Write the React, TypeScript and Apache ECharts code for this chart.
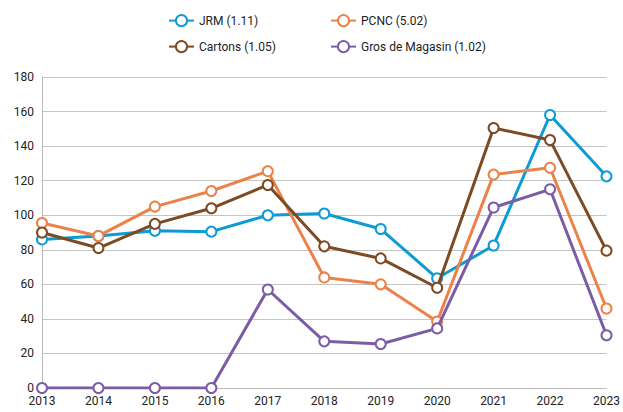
import React, { useEffect, useRef } from "react";
import * as echarts from "echarts";

const years = ["2013", "2014", "2015", "2016", "2017", "2018", "2019", "2020", "2021", "2022", "2023"];
const jrm = [86, 88, 91, 90.5, 100, 101, 92, 63.5, 82.5, 158, 122.5];
const pcnc = [95.5, 88, 105, 114, 125.5, 64, 60, 38.5, 123.5, 127.5, 46];
const cartons = [90, 81, 95, 104, 117.5, 82, 75, 58, 150.5, 143.5, 79.5];
const gros = [0, 0, 0, 0, 57, 27, 25.5, 34.5, 104.5, 115, 30.5];

const names = ["JRM (1.11)", "PCNC (5.02)", "Cartons (1.05)", "Gros de Magasin (1.02)"];
const colors = ["#0E9BD3", "#EB8249", "#7E4A22", "#7C5CA6"];
const seriesData = [jrm, pcnc, cartons, gros];

export default function App() {
  const ref = useRef<HTMLDivElement>(null);
  useEffect(() => {
    const chart = echarts.init(ref.current!, null, { renderer: "svg" });
    const font = "Roboto, 'Noto Sans', sans-serif";
    const legendPos = [
      { left: 163, top: 9 },
      { left: 325, top: 9 },
      { left: 163, top: 35 },
      { left: 325, top: 35 },
    ];
    chart.setOption({
      animation: false,
      textStyle: { fontFamily: font },
      legend: names.map((n, i) => ({
        data: [n],
        left: legendPos[i].left,
        top: legendPos[i].top,
        itemWidth: 25,
        itemHeight: 14,
        itemGap: 0,
        textStyle: { fontSize: 12, color: "#222", fontFamily: font },
      })),
      grid: { left: 42, right: 12, top: 77, bottom: 24 },
      xAxis: {
        type: "category",
        data: years,
        boundaryGap: false,
        axisLine: { show: true, lineStyle: { color: "#bbb" } },
        axisTick: { show: false },
        axisLabel: { color: "#222", fontSize: 12, margin: 7, fontFamily: font },
        splitLine: { show: false },
      },
      yAxis: {
        type: "value",
        min: 0,
        max: 180,
        interval: 20,
        axisLine: { show: true, lineStyle: { color: "#bbb" } },
        axisTick: { show: false },
        axisLabel: { color: "#222", fontSize: 12, margin: 8, fontFamily: font },
        splitLine: { show: true, lineStyle: { color: "#c4c4c4", width: 1 } },
      },
      series: names.map((n, i) => ({
        name: n,
        type: "line",
        data: seriesData[i],
        symbol: "circle",
        symbolSize: 10,
        showAllSymbol: true,
        lineStyle: { color: colors[i], width: 3 },
        itemStyle: { color: "#fff", borderColor: colors[i], borderWidth: 2 },
        z: 2 + i,
      })),
    });
    return () => chart.dispose();
  }, []);
  return <div ref={ref} style={{ width: 623, height: 412, position: "absolute", left: 0, top: 0 }} />;
}
